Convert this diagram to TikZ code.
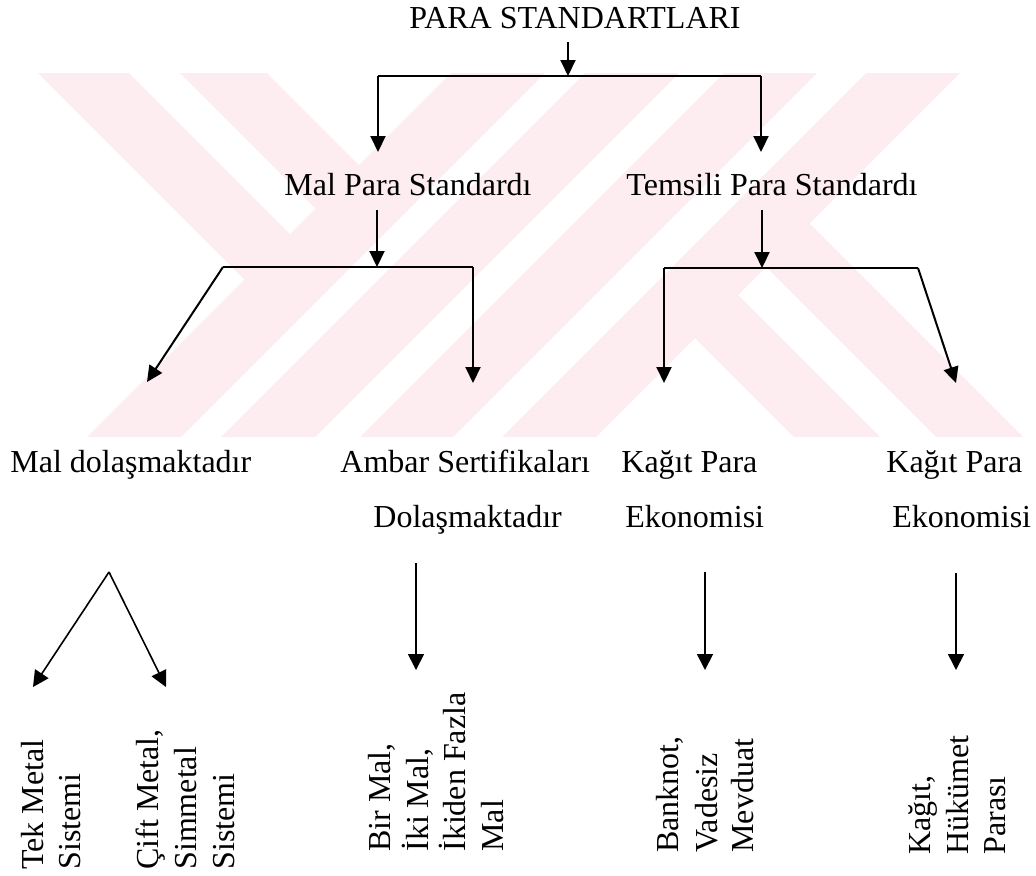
\documentclass[tikz,border=0pt]{standalone}
\usepackage{fontspec}
\setmainfont{Liberation Serif}
\usetikzlibrary{arrows.meta}
\definecolor{wm}{RGB}{253,236,240}
\begin{document}
\begin{tikzpicture}[x=0.5pt,y=-0.5pt,
  arr/.style={-{Triangle[length=8pt,width=7.5pt]}, line width=1pt},
  arrb/.style={-{Triangle[length=8pt,width=8pt]}, line width=0.8pt},
  bar/.style={line width=1pt},
  lbl/.style={inner sep=0pt, font=\fontsize{16}{18.5}\selectfont},
  vlbl/.style={lbl, rotate=90, anchor=base west}]
\useasboundingbox (0,0) rectangle (1036,875);
% watermark
\fill[wm] (451,73) -- (545,73) -- (181,437) -- (87,437) -- cycle;
\fill[wm] (585,73) -- (679,73) -- (315,437) -- (221,437) -- cycle;
\fill[wm] (724,73) -- (817,73) -- (453,437) -- (360,437) -- cycle;
\fill[wm] (866,73) -- (960,73) -- (596,437) -- (502,437) -- cycle;
\fill[wm] (38,73) -- (129,73) -- (308,252) -- (262.5,297.5) -- cycle;
\fill[wm] (180,73) -- (267,73) -- (377,183) -- (333.5,226.5) -- cycle;
\fill[wm] (714.5,271.5) -- (671.5,314.5) -- (794,437) -- (880,437) -- cycle;
\fill[wm] (786,200) -- (742.5,243.5) -- (936,437) -- (1023,437) -- cycle;
% texts
\node[lbl, anchor=base] (title) at (575,28) {PARA STANDARTLARI};
\node[lbl, anchor=base] (mal) at (408,195) {Mal Para Standardı};
\node[lbl, anchor=base] (tem) at (772,195) {Temsili Para Standardı};
\node[lbl, anchor=base west] (maldol) at (10,472) {Mal dolaşmaktadır};
\node[lbl, anchor=base west] (ambar) at (340,472) {Ambar Sertifikaları};
\node[lbl, anchor=base west] (ambar2) at (373,527) {Dolaşmaktadır};
\node[lbl, anchor=base west] (kagL) at (621,472) {Kağıt Para};
\node[lbl, anchor=base west] (kagL2) at (625,527) {Ekonomisi};
\node[lbl, anchor=base west] (kagR) at (886,472) {Kağıt Para};
\node[lbl, anchor=base west] (kagR2) at (892,527) {Ekonomisi};
% vertical texts
\node[vlbl] (v1a) at (43,870) {Tek Metal};
\node[vlbl] (v1b) at (80,870) {Sistemi};
\node[vlbl] (v2a) at (158,870) {Çift Metal,};
\node[vlbl] (v2b) at (196,870) {Simmetal};
\node[vlbl] (v2c) at (234,870) {Sistemi};
\node[vlbl] (v3a) at (390,852) {Bir Mal,};
\node[vlbl] (v3b) at (428,852) {İki Mal,};
\node[vlbl] (v3c) at (465,852) {İkiden Fazla};
\node[vlbl] (v3d) at (503,852) {Mal};
\node[vlbl] (v4a) at (678,853) {Banknot,};
\node[vlbl] (v4b) at (717,853) {Vadesiz};
\node[vlbl] (v4c) at (753,853) {Mevduat};
\node[vlbl] (v5a) at (930,855) {Kağıt,};
\node[vlbl] (v5b) at (968,855) {Hükümet};
\node[vlbl] (v5c) at (1005,855) {Parası};
% coordinates
\coordinate (ts) at (568,42);
\coordinate (t0) at (568,76);
\coordinate (tL) at (378,76);
\coordinate (tR) at (761,76);
\coordinate (tLe) at (378,152);
\coordinate (tRe) at (761,152);
\coordinate (ms) at (377,210);
\coordinate (m0) at (377,267);
\coordinate (mL) at (223,267);
\coordinate (mR) at (473,267);
\coordinate (mLe) at (147,382);
\coordinate (mRe) at (473,383);
\coordinate (es) at (762,210);
\coordinate (e0) at (762,268);
\coordinate (eL) at (664,268);
\coordinate (eR) at (918,268);
\coordinate (eLe) at (664,383);
\coordinate (eRe) at (956,383);
\coordinate (lam) at (109,572);
\coordinate (lamL) at (33,687);
\coordinate (lamR) at (166,687);
\coordinate (as) at (416,563);
\coordinate (ae) at (416,670);
\coordinate (ks) at (705,572);
\coordinate (ke) at (705,670);
\coordinate (hs) at (956,573);
\coordinate (he) at (956,670);
% connectors
\draw[arr] (ts) -- (t0);
\draw[bar] (tL) -- (tR);
\draw[arr] (tL) -- (tLe);
\draw[arr] (tR) -- (tRe);
\draw[arr] (ms) -- (m0);
\draw[bar] (mL) -- (mR);
\draw[arr] (mL) -- (mLe);
\draw[arr] (mR) -- (mRe);
\draw[arr] (es) -- (e0);
\draw[bar] (eL) -- (eR);
\draw[arr] (eL) -- (eLe);
\draw[arr] (eR) -- (eRe);
\draw[arrb] (lam) -- (lamL);
\draw[arrb] (lam) -- (lamR);
\draw[arrb] (as) -- (ae);
\draw[arrb] (ks) -- (ke);
\draw[arrb] (hs) -- (he);
\end{tikzpicture}
\end{document}
